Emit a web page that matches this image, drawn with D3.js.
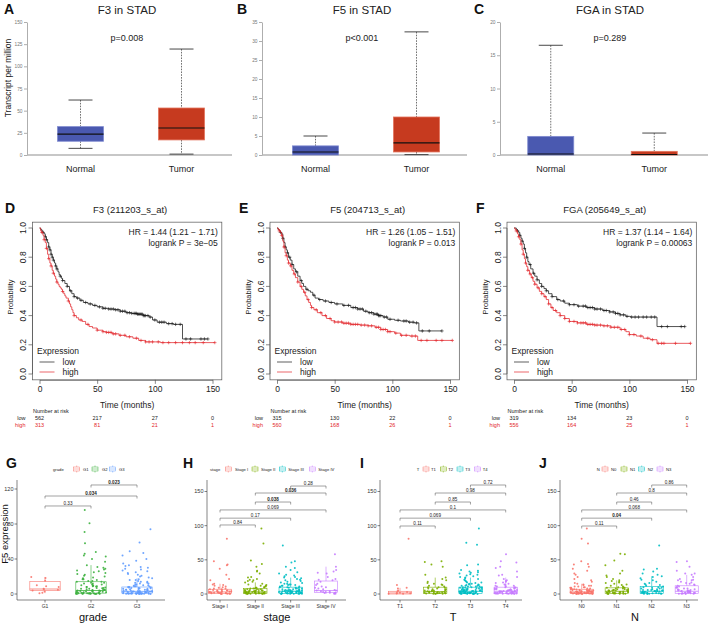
<!DOCTYPE html>
<html><head><meta charset="utf-8">
<script src="https://cdn.jsdelivr.net/npm/d3@7"></script>
<style>body{margin:0;background:#fff} svg{display:block}</style>
</head><body><svg id="c" width="708" height="625"></svg>
<script>
// ---------------- DATA ----------------
// Row 1: expression boxplots, stats = [lowWhisker, q1, median, q3, highWhisker]
const exprGroups = ["Normal", "Tumor"];
const A_normal = [7.5, 15.5, 23.5, 32, 62];
const A_tumor  = [1, 17, 30.5, 53, 119.5];
const B_normal = [0, 0, 0.8, 2.4, 5];
const B_tumor  = [0.1, 0.8, 3.2, 10, 32.4];
const C_normal = [0, 0, 0.15, 2.8, 16.5];
const C_tumor  = [0, 0, 0.08, 0.55, 3.3];
const A_ticks = [0, 25, 50, 75, 100, 125, 150];
const B_ticks = [0, 5, 10, 15, 20, 25, 30, 35];
const C_ticks = [0, 5, 10, 15, 20];

// Row 2: Kaplan-Meier step curves [time, survival]
const D_low = [[0,1],[1,0.99],[2,0.98],[3,0.97],[4,0.96],[5,0.94],[6,0.92],[7,0.9],[8,0.87],[9,0.85],[10,0.82],[11,0.8],[12,0.78],[13,0.76],[14,0.74],[15,0.72],[16,0.7],[17,0.68],[18,0.67],[19,0.655],[20,0.64],[22,0.62],[24,0.6],[26,0.57],[28,0.55],[30,0.53],[32,0.52],[35,0.505],[38,0.49],[42,0.48],[46,0.47],[50,0.46],[55,0.45],[60,0.445],[65,0.44],[70,0.43],[75,0.42],[80,0.415],[85,0.41],[90,0.4],[95,0.39],[98,0.37],[102,0.355],[110,0.345],[116,0.34],[124,0.24]];
const D_high = [[0,1],[1,0.98],[2,0.97],[3,0.95],[4,0.92],[5,0.9],[6,0.86],[7,0.82],[8,0.79],[9,0.76],[10,0.74],[11,0.71],[12,0.69],[13,0.67],[14,0.65],[15,0.63],[16,0.615],[17,0.6],[18,0.59],[19,0.58],[20,0.565],[21,0.55],[22,0.535],[23,0.52],[25,0.5],[26,0.48],[27,0.46],[28,0.44],[29,0.42],[30,0.4],[32,0.385],[34,0.37],[37,0.36],[40,0.34],[43,0.325],[46,0.315],[50,0.3],[55,0.29],[58,0.285],[63,0.275],[69,0.265],[75,0.255],[81,0.245],[86,0.23],[92,0.22],[105,0.215]];
const E_low = [[0,1],[1,0.99],[2,0.98],[3,0.97],[4,0.96],[5,0.93],[6,0.9],[7,0.87],[8,0.85],[9,0.83],[10,0.8],[11.5,0.78],[13,0.75],[14.5,0.72],[16,0.7],[18,0.67],[20,0.64],[21.5,0.62],[23,0.6],[25,0.58],[27,0.57],[29,0.56],[31,0.54],[33,0.52],[36,0.51],[40,0.5],[45,0.49],[50,0.48],[57,0.47],[64,0.455],[70,0.445],[75,0.43],[79,0.42],[84,0.41],[88,0.4],[92,0.39],[96,0.375],[102,0.368],[107,0.363],[114,0.355],[119,0.35],[123,0.295]];
const E_high = [[0,1],[1,0.99],[2,0.98],[3,0.97],[4,0.95],[5,0.91],[6,0.87],[7,0.83],[8,0.81],[9,0.78],[10,0.76],[11.5,0.74],[13,0.71],[14.5,0.685],[16,0.66],[18,0.63],[20,0.6],[21.5,0.58],[23,0.56],[24.5,0.535],[26,0.51],[27.5,0.49],[29,0.47],[30,0.455],[32,0.44],[35,0.42],[39,0.4],[43,0.38],[47,0.365],[50,0.356],[57,0.348],[64,0.34],[72,0.335],[79,0.33],[85,0.32],[90,0.305],[96,0.29],[102,0.28],[107,0.265],[115,0.26],[122,0.23]];
const F_low = [[0,1],[2,0.99],[3,0.98],[4,0.97],[5,0.95],[6,0.93],[7,0.91],[8,0.89],[9,0.86],[10,0.83],[11,0.8],[12,0.77],[13,0.75],[14.5,0.72],[16.5,0.69],[18,0.67],[20,0.645],[22,0.62],[24,0.6],[26,0.585],[28,0.57],[30,0.55],[33,0.53],[37,0.51],[40,0.5],[44,0.485],[48,0.475],[55,0.465],[63,0.455],[70,0.445],[77,0.435],[83,0.425],[88,0.415],[92,0.405],[97,0.395],[101,0.39],[124,0.325]];
const F_high = [[0,1],[1,0.99],[2,0.98],[3,0.96],[4,0.94],[5,0.92],[6,0.89],[7,0.85],[8,0.82],[9,0.79],[10,0.76],[11,0.735],[12,0.71],[13.5,0.685],[15,0.66],[16.5,0.635],[18,0.615],[20,0.59],[22,0.566],[24,0.55],[26,0.53],[28,0.51],[30,0.48],[32,0.455],[34,0.435],[37,0.42],[40,0.4],[44,0.38],[48,0.36],[55,0.35],[63,0.34],[70,0.335],[77,0.33],[84,0.32],[92,0.305],[97,0.29],[100,0.27],[106,0.26],[112,0.245],[118,0.235],[124,0.21]];
const D_lowEnd = 146, D_highEnd = 152, E_lowEnd = 143, E_highEnd = 152, F_lowEnd = 148, F_highEnd = 153;
const D_lowCens = [3,5,6,8,9,10,11,12,14,15,18,20,24,27,30,33,36,40,44,48,52,55,57,60,62,64,66,68,70,72,74,76,78,80,82,83,84,85,86,87,88,89,90,91,92,94,96,100,104,106,108,112,115,118,122,127,131,140,143,146];
const D_highCens = [2,4,6,8,10,12,15,20,25,30,36,42,50,55,58,60,62,64,66,70,74,78,84,88,92,95,98,103,107,112,118,124,130,135,142,152];
const E_lowCens = [3,5,7,9,11,13,17,21,26,32,37,42,47,52,58,62,66,68,70,72,74,77,80,82,84,86,87,88,89,90,93,95,98,105,110,112,115,118,121,126,132,143];
const E_highCens = [2,4,6,8,10,12,15,18,21,24,27,30,34,38,42,46,50,53,56,58,60,62,64,66,68,70,73,76,79,82,86,88,90,92,94,96,98,103,108,112,117,120,125,130,138,143,152];
const F_lowCens = [3,5,7,9,11,14,17,20,24,28,33,38,43,48,52,56,60,62,64,66,68,70,72,75,78,80,83,86,88,90,92,95,98,102,105,108,112,115,119,122,128,133,145,148];
const F_highCens = [2,4,6,8,10,12,14,16,18,21,24,27,30,33,36,40,44,48,52,55,58,60,62,64,66,68,70,72,75,78,81,84,87,90,93,96,100,104,110,116,120,125,128,130,140,153];
const riskTimes = [0, 50, 100, 150];
const D_riskLow = [562, 217, 27, 0], D_riskHigh = [313, 81, 21, 1];
const E_riskLow = [315, 130, 22, 0], E_riskHigh = [560, 168, 26, 1];
const F_riskLow = [319, 134, 23, 0], F_riskHigh = [556, 164, 25, 1];

// Row 3: F5 expression by clinical group. stats = [low, q1, median, q3, high]
const G_groups = ["G1","G2","G3"];
const G_stats = [[1,4.2,5.7,14.5,19.5],[0,1,4,14,33],[0,1,3,8,18]];
const G_pts = [
 [19.5,18.3,15.2,10,9,8,6,5.5,5,4,3,1.5,1],
 [96,81,71,58,48,46,44,43,40,37,33,31,30,29,28,27,26,25,24,23,22,21,20,19,18,17,17,16,15,15,14,14,13,13,12,12,11,11,10,10,9.5,9,9,8.5,8,8,7.5,7,7,6.5,6,6,5.5,5,5,5,4.5,4,4,4,3.5,3.5,3,3,3,2.5,2.5,2,2,2,2,1.5,1.5,1.5,1,1,1,1,0.8,0.8,0.6,0.6,0.5,0.5,0.4,0.4,0.3,0.3,0.2,0.2,0.1,0.1],
 [74,59,49,47,44,40,38,35,33,32,31,30,29,28,27,26,25,24,23,22,21,20,19,18,17,16,16,15,14,14,13,13,12,12,11,11,10,10,9.5,9,9,8.5,8,8,7.5,7.5,7,7,6.5,6.5,6,6,5.5,5.5,5,5,5,4.5,4.5,4,4,4,3.5,3.5,3.5,3,3,3,3,2.5,2.5,2.5,2,2,2,2,2,1.5,1.5,1.5,1.5,1,1,1,1,1,0.8,0.8,0.8,0.6,0.6,0.6,0.5,0.5,0.4,0.4,0.3,0.3,0.2,0.2,0.1,0.1,0.1]
];
const G_pairs = [[0,1,100.6,"0.33",false],[0,2,112,"0.034",true],[1,2,124.6,"0.023",true]];

const H_groups = ["Stage I","Stage II","Stage III","Stage IV"];
const H_stats = [[0,0.5,3,7,15],[0,1,3,8,17],[0,1,4,10,24],[0,2,5,19,40]];
const H_pts = [
 [81,48,43,42,37,28,22,20,15,14,13,12,11,10,9,8,8,7,7,6,6,5,5,5,4,4,4,3.5,3,3,3,2.5,2,2,2,1.5,1.5,1,1,1,0.8,0.5,0.5,0.3,0.2,0.1],
 [96,74,49,44,40,34,33,30,25,24,22,21,20,19,18,17,15,14,13,12,12,11,10,10,9,9,8,8,8,7,7,7,6,6,6,5,5,5,5,4.5,4,4,4,4,3.5,3.5,3,3,3,3,2.5,2.5,2,2,2,2,1.5,1.5,1.5,1,1,1,1,0.8,0.6,0.5,0.5,0.4,0.3,0.2,0.1],
 [71,48,46,40,38,35,32,30,28,27,26,25,24,23,22,21,20,19,18,17,16,15,15,14,14,13,13,12,12,11,11,10,10,9,9,9,8,8,8,7,7,7,6,6,6,6,5,5,5,5,4.5,4.5,4,4,4,4,3.5,3.5,3,3,3,3,2.5,2.5,2,2,2,2,1.5,1.5,1.5,1,1,1,1,0.8,0.6,0.5,0.5,0.4,0.3,0.2,0.1],
 [58,40,35,33,31,30,25,22,21,20,18,15,13,11,10,9,8,7,6,5,5,4,4,3,3,2,2,1.5,1,0.5,0.3]
];
const H_pairs = [[0,1,101,"0.84",false],[0,2,111,"0.17",false],[0,3,123,"0.069",false],[1,2,134.6,"0.038",true],[1,3,147.8,"0.036",true],[2,3,158,"0.28",false]];

const I_groups = ["T1","T2","T3","T4"];
const I_stats = [[0,0,1.5,4,9],[0,1,3.5,10,24],[0,1,4,10,24],[0,1,4,10,24]];
const I_pts = [
 [81,13,9,8,5,4,3,2,1.5,1,0.8,0.5,0.3],
 [48,47,43,40,28,24,22,20,18,16,15,14,13,12,11,10,10,9,8,8,7,7,6,6,5,5,5,4,4,4,3.5,3,3,3,2.5,2,2,2,1.5,1.5,1,1,1,0.8,0.5,0.5,0.3,0.2],
 [96,75,72,43,42,35,34,33,32,31,30,29,28,27,26,25,24,23,22,21,20,19,18,17,17,16,15,15,14,14,13,13,12,12,12,11,11,11,10,10,10,9,9,9,8.5,8,8,8,7.5,7,7,7,6.5,6,6,6,6,5.5,5,5,5,5,4.5,4.5,4,4,4,4,3.5,3.5,3.5,3,3,3,3,2.5,2.5,2.5,2,2,2,2,2,1.5,1.5,1.5,1.5,1,1,1,1,1,0.8,0.8,0.6,0.6,0.5,0.5,0.4,0.3,0.2,0.1],
 [58,48,46,40,38,33,28,27,25,22,20,19,18,17,16,15,14,13,12,12,11,11,10,10,9,9,8,8,8,7,7,7,6,6,6,5,5,5,5,4.5,4,4,4,4,3.5,3.5,3,3,3,3,2.5,2.5,2,2,2,2,1.5,1.5,1.5,1,1,1,1,0.8,0.6,0.5,0.5,0.4,0.3,0.2,0.1]
];
const I_pairs = [[0,1,99.5,"0.11",false],[0,2,111,"0.069",false],[0,3,123,"0.1",false],[1,2,134.6,"0.85",false],[1,3,147.8,"0.98",false],[2,3,159.5,"0.72",false]];

const J_groups = ["N0","N1","N2","N3"];
const J_stats = [[0,1,3,7,15],[0,1,4,9,20],[0,1,4,11,26],[0,1,4,12,28]];
const J_pts = [
 [96,81,74,48,44,43,40,37,34,30,28,25,22,20,18,16,15,14,13,12,12,11,11,10,10,9,9,8.5,8,8,7.5,7,7,6.5,6,6,6,5.5,5,5,5,4.5,4.5,4,4,4,4,3.5,3.5,3.5,3,3,3,3,2.5,2.5,2.5,2,2,2,2,2,1.5,1.5,1.5,1.5,1,1,1,1,1,0.8,0.8,0.6,0.6,0.5,0.5,0.4,0.3,0.2,0.1,0.1],
 [59,58,49,42,34,30,27,25,22,20,19,18,17,16,15,14,13,12,11,10,10,9,9,8,8,7,7,7,6,6,6,5,5,5,5,4.5,4,4,4,3.5,3.5,3,3,3,2.5,2.5,2,2,2,1.5,1.5,1,1,1,0.8,0.6,0.5,0.4,0.3,0.2,0.1],
 [71,37,36,33,30,28,26,25,23,21,20,18,16,15,14,13,12,11,10,10,9,9,8,8,7,7,6,6,6,5,5,5,4.5,4,4,4,3.5,3,3,3,2.5,2,2,2,1.5,1.5,1,1,1,0.8,0.5,0.3,0.2,0.1],
 [48,47,40,34,30,30,28,25,22,21,20,20,18,17,16,15,14,13,12,11,10,10,9,8,8,7,7,6,6,5,5,5,4.5,4,4,4,3.5,3,3,3,2.5,2,2,2,1.5,1.5,1,1,1,0.8,0.5,0.3,0.2,0.1]
];
const J_pairs = [[0,1,99.5,"0.11",false],[0,2,111,"0.04",true],[0,3,123,"0.068",false],[1,2,134.6,"0.46",false],[1,3,147.8,"0.8",false],[2,3,159.5,"0.86",false]];

// ---------------- DRAWING ----------------
const FONT = '"Liberation Sans", Arial, Helvetica, sans-serif';
const svg = d3.select("#c").attr("font-family", FONT);

function label(x, y, s, size, opt = {}) {
  const t = svg.append("text").attr("x", x).attr("y", y).attr("font-size", size).text(s);
  if (opt.anchor) t.attr("text-anchor", opt.anchor);
  if (opt.weight) t.attr("font-weight", opt.weight);
  t.attr("fill", opt.fill || "#111");
  if (opt.rot) t.attr("transform", `rotate(-90,${x},${y})`);
  return t;
}

// ---- Row 1
const C_BLUE = "#4a59b0", C_BLUE_L = "#7f8ad0", C_RED = "#c63a1f", C_RED_L = "#e3735c";
function exprPanel(o) {
  const y = d3.scaleLinear().domain([0, o.max]).range([155, 22]);
  const x = d3.scalePoint().domain(exprGroups).range(o.xr).padding(0.5);
  const g = svg.append("g");
  const ax = g.append("g").attr("transform", `translate(${o.axisX},0)`)
    .call(d3.axisLeft(y).tickValues(o.ticks).tickSize(3).tickSizeOuter(0).tickPadding(1.5));
  ax.select(".domain").attr("stroke", "#999").attr("stroke-width", 0.8);
  ax.selectAll(".tick line").attr("stroke", "#999").attr("stroke-width", 0.8);
  ax.selectAll(".tick text").attr("font-size", 4.8).attr("fill", "#777").attr("font-family", FONT);
  g.append("line").attr("x1", o.axisX).attr("x2", o.baseEnd).attr("y1", y(0)).attr("y2", y(0))
    .attr("stroke", "#b4b4b4").attr("stroke-width", 1.6);
  exprGroups.forEach((k, i) => {
    const s = o.stats[i], cx = x(k), bw = 46, cw = 24;
    const fill = i === 0 ? C_BLUE : C_RED, edge = i === 0 ? C_BLUE_L : C_RED_L;
    const dash = (y1, y2) => g.append("line").attr("x1", cx).attr("x2", cx).attr("y1", y1).attr("y2", y2)
      .attr("stroke", "#333").attr("stroke-width", 0.7).attr("stroke-dasharray", "1.6,1.2");
    const cap = (yy) => g.append("line").attr("x1", cx - cw / 2).attr("x2", cx + cw / 2).attr("y1", yy).attr("y2", yy)
      .attr("stroke", "#333").attr("stroke-width", 0.9);
    dash(y(s[4]), y(s[3])); cap(y(s[4]));
    if (s[1] > s[0]) { dash(y(s[1]), y(s[0])); cap(y(s[0])); }
    g.append("rect").attr("x", cx - bw / 2).attr("y", y(s[3])).attr("width", bw)
      .attr("height", Math.max(1, y(s[1]) - y(s[3]))).attr("fill", fill).attr("stroke", edge).attr("stroke-width", 0.8);
    g.append("line").attr("x1", cx - bw / 2).attr("x2", cx + bw / 2).attr("y1", y(s[2])).attr("y2", y(s[2]))
      .attr("stroke", "#111").attr("stroke-width", 1.1);
    label(cx, 172, k, 9, { anchor: "middle", fill: "#222" });
  });
  label(o.letterX, 13.5, o.letter, 14, { weight: "bold" });
  label(o.titleX, 13.5, o.title, 11.5, { anchor: "middle", fill: "#222" });
  label(o.titleX, 41, o.p, 9, { anchor: "middle", fill: "#222" });
}
exprPanel({ letter: "A", letterX: 4, title: "F3 in STAD", titleX: 127, p: "p=0.008", max: 150, ticks: A_ticks,
  axisX: 27, xr: [30, 232], baseEnd: 232, stats: [A_normal, A_tumor] });
exprPanel({ letter: "B", letterX: 237, title: "F5 in STAD", titleX: 362, p: "p<0.001", max: 35, ticks: B_ticks,
  axisX: 262, xr: [265, 467], baseEnd: 467, stats: [B_normal, B_tumor] });
exprPanel({ letter: "C", letterX: 474, title: "FGA in STAD", titleX: 610, p: "p=0.289", max: 20, ticks: C_ticks,
  axisX: 500, xr: [499, 706], baseEnd: 708, stats: [C_normal, C_tumor] });
label(10.5, 78, "Transcript per million", 8.5, { anchor: "middle", rot: true, fill: "#222" });

// ---- Row 2: Kaplan-Meier
const KM_RED = "#e3262b", KM_BLACK = "#1a1a1a";
function survAt(steps, t) { let s = 1; for (const [tt, ss] of steps) { if (tt <= t) s = ss; else break; } return s; }
function km(o) {
  const x = d3.scaleLinear().domain([0, 150]).range([o.x0, o.x0 + 173]);
  const y = d3.scaleLinear().domain([0, 1]).range([374, 228]);
  const fl = x(-6.08), fr = x(158.08), ft = y(1.04), fb = y(-0.04);
  const g = svg.append("g");
  g.append("rect").attr("x", fl).attr("y", ft).attr("width", fr - fl).attr("height", fb - ft)
    .attr("fill", "none").attr("stroke", "#555").attr("stroke-width", 0.7);
  const xa = g.append("g").attr("transform", `translate(0,${fb})`)
    .call(d3.axisBottom(x).tickValues(riskTimes).tickSize(4).tickSizeOuter(0).tickPadding(2.6));
  xa.select(".domain").attr("stroke", "#555").attr("stroke-width", 0.7);
  xa.selectAll(".tick line").attr("stroke", "#555").attr("stroke-width", 0.7);
  xa.selectAll(".tick text").attr("font-size", 8.5).attr("fill", "#222").attr("font-family", FONT);
  [0, 0.2, 0.4, 0.6, 0.8, 1].forEach(v => {
    g.append("line").attr("x1", fl - 4).attr("x2", fl).attr("y1", y(v)).attr("y2", y(v)).attr("stroke", "#555").attr("stroke-width", 0.7);
    label(fl - 6, y(v), d3.format(".1f")(v), 8.5, { anchor: "middle", rot: true, fill: "#222" });
  });
  g.append("line").attr("x1", fl).attr("x2", fl).attr("y1", y(0)).attr("y2", y(1)).attr("stroke", "#555").attr("stroke-width", 0.7);
  label(fl - 19, 297, "Probability", 7.5, { anchor: "middle", rot: true, fill: "#222" });
  const line = d3.line().x(d => x(d[0])).y(d => y(d[1])).curve(d3.curveStepAfter);
  const draw = (steps, end, cens, col) => {
    const pts = steps.concat([[end, steps[steps.length - 1][1]]]);
    g.append("path").attr("d", line(pts)).attr("fill", "none").attr("stroke", col).attr("stroke-width", 0.75);
    cens.forEach(t => {
      const cx = x(t), cy = y(survAt(steps, t));
      g.append("path").attr("d", `M${cx - 1.7},${cy}H${cx + 1.7}M${cx},${cy - 1.7}V${cy + 1.7}`)
        .attr("stroke", col).attr("stroke-width", 0.6);
    });
  };
  draw(o.low, o.lowEnd, o.lowCens, KM_BLACK);
  draw(o.high, o.highEnd, o.highCens, KM_RED);
  label(o.letterX, 213, o.letter, 14, { weight: "bold" });
  label((fl + fr) / 2 + 3, 213, o.title, 9.5, { anchor: "middle", fill: "#222" });
  label(fr - 4, 234.5, o.hr, 8.5, { anchor: "end", fill: "#222" });
  label(fr - 4, 245.5, o.lr, 8.5, { anchor: "end", fill: "#222" });
  label(x(0) - 2.5, 354, "Expression", 8.5, { fill: "#222" });
  g.append("line").attr("x1", x(0)).attr("x2", x(0) + 15).attr("y1", 362).attr("y2", 362).attr("stroke", KM_BLACK).attr("stroke-width", 0.7);
  g.append("line").attr("x1", x(0)).attr("x2", x(0) + 15).attr("y1", 372).attr("y2", 372).attr("stroke", KM_RED).attr("stroke-width", 0.7);
  label(x(0) + 23, 365, "low", 8.5, { fill: "#222" });
  label(x(0) + 23, 375, "high", 8.5, { fill: "#222" });
  label((fl + fr) / 2, 408, "Time (months)", 8.5, { anchor: "middle", fill: "#222" });
  label(x(0) - 6.5, 413, "Number at risk", 5.5, { fill: "#222" });
  label(x(0) - 14, 419.5, "low", 5.5, { anchor: "end", fill: "#222" });
  label(x(0) - 14, 426.5, "high", 5.5, { anchor: "end", fill: KM_RED });
  riskTimes.forEach((t, i) => {
    label(x(t), 419.5, o.riskLow[i], 5.5, { anchor: "middle", fill: "#222" });
    label(x(t), 426.5, o.riskHigh[i], 5.5, { anchor: "middle", fill: KM_RED });
  });
}
km({ x0: 39.5, letter: "D", letterX: 5, title: "F3 (211203_s_at)", hr: "HR = 1.44 (1.21 \u2212 1.71)", lr: "logrank P = 3e\u221205",
  low: D_low, high: D_high, lowEnd: D_lowEnd, highEnd: D_highEnd, lowCens: D_lowCens, highCens: D_highCens, riskLow: D_riskLow, riskHigh: D_riskHigh });
km({ x0: 277, letter: "E", letterX: 239, title: "F5 (204713_s_at)", hr: "HR = 1.26 (1.05 \u2212 1.51)", lr: "logrank P = 0.013",
  low: E_low, high: E_high, lowEnd: E_lowEnd, highEnd: E_highEnd, lowCens: E_lowCens, highCens: E_highCens, riskLow: E_riskLow, riskHigh: E_riskHigh });
km({ x0: 514, letter: "F", letterX: 476, title: "FGA (205649_s_at)", hr: "HR = 1.37 (1.14 \u2212 1.64)", lr: "logrank P = 0.00063",
  low: F_low, high: F_high, lowEnd: F_lowEnd, highEnd: F_highEnd, lowCens: F_lowCens, highCens: F_highCens, riskLow: F_riskLow, riskHigh: F_riskHigh });

// ---- Row 3: jitter boxplots
const HUE3 = ["#F8766D", "#3DB13F", "#619CFF"];
const HUE4 = ["#F8766D", "#7CAE00", "#00BFC4", "#C77CFF"];
// deterministic hash for horizontal jitter placement (layout only, not data)
function jitterOffset(i, j) { const v = Math.sin(j * 12.9898 + i * 78.233 + 0.5) * 43758.5453; return v - Math.floor(v) - 0.5; }
function jit(o) {
  const y = d3.scaleLinear().domain([0, o.max]).range([594, o.topPx]);
  const x = d3.scalePoint().domain(o.groups).range([o.c0, o.c1]);
  const sp = x.step();
  const g = svg.append("g");
  const AX = "#333";
  g.append("line").attr("x1", o.axisX).attr("x2", o.axisX).attr("y1", 480).attr("y2", 600).attr("stroke", AX).attr("stroke-width", 0.6);
  g.append("line").attr("x1", o.axisX).attr("x2", o.xEnd).attr("y1", 600).attr("y2", 600).attr("stroke", AX).attr("stroke-width", 0.6);
  o.ticks.forEach(v => {
    g.append("line").attr("x1", o.axisX - 2.5).attr("x2", o.axisX).attr("y1", y(v)).attr("y2", y(v)).attr("stroke", AX).attr("stroke-width", 0.6);
    label(o.axisX - 3.5, y(v) + 1.9, v, 5.5, { anchor: "end", fill: "#333" });
  });
  o.groups.forEach((k, i) => {
    const cx = x(k), s = o.stats[i], c = o.colors[i], bw = sp * 0.66;
    g.append("line").attr("x1", cx).attr("x2", cx).attr("y1", 600).attr("y2", 602.5).attr("stroke", AX).attr("stroke-width", 0.6);
    label(cx, 607.5, k, 5, { anchor: "middle", fill: "#333" });
    g.append("line").attr("x1", cx).attr("x2", cx).attr("y1", y(s[0])).attr("y2", y(s[1])).attr("stroke", c).attr("stroke-width", 0.6);
    g.append("line").attr("x1", cx).attr("x2", cx).attr("y1", y(s[3])).attr("y2", y(s[4])).attr("stroke", c).attr("stroke-width", 0.6);
    g.append("rect").attr("x", cx - bw / 2).attr("y", y(s[3])).attr("width", bw).attr("height", y(s[1]) - y(s[3]))
      .attr("fill", "#fff").attr("fill-opacity", 0.4).attr("stroke", c).attr("stroke-width", 0.6);
    g.append("line").attr("x1", cx - bw / 2).attr("x2", cx + bw / 2).attr("y1", y(s[2])).attr("y2", y(s[2])).attr("stroke", c).attr("stroke-width", 0.8);
    o.pts[i].forEach((v, j) => {
      const off = jitterOffset(i + o.seed, j) * sp * 0.66;
      g.append("circle").attr("cx", cx + off).attr("cy", y(v)).attr("r", 1.0).attr("fill", c).attr("fill-opacity", 0.9);
    });
  });
  o.pairs.forEach(([a, b, v, t, bold]) => {
    const x1 = x(o.groups[a]), x2 = x(o.groups[b]), yy = y(v);
    g.append("path").attr("d", `M${x1},${yy + 2.5}V${yy}H${x2}V${yy + 2.5}`).attr("fill", "none").attr("stroke", "#555").attr("stroke-width", 0.55);
    label((x1 + x2) / 2, yy - 1.4, t, 4.6, { anchor: "middle", fill: "#222", weight: bold ? "bold" : null });
  });
  // legend
  label(o.legX, 470.5, o.legTitle, 4.2, { fill: "#222" });
  o.groups.forEach((k, i) => {
    const sx = o.legSym[i], c = o.colors[i];
    g.append("line").attr("x1", sx).attr("x2", sx).attr("y1", 465.5).attr("y2", 472.5).attr("stroke", c).attr("stroke-width", 0.5);
    g.append("rect").attr("x", sx - 3).attr("y", 467).attr("width", 6).attr("height", 4).attr("fill", "#fff").attr("stroke", c).attr("stroke-width", 0.5);
    g.append("line").attr("x1", sx - 3).attr("x2", sx + 3).attr("y1", 469).attr("y2", 469).attr("stroke", c).attr("stroke-width", 0.5);
    label(o.legTxt[i], 470.5, k, 4.2, { fill: "#222" });
  });
  label(o.letterX, 468, o.letter, 14, { weight: "bold" });
  label(o.titleX, 621, o.xTitle, 11, { anchor: "middle", fill: "#111" });
}
jit({ letter: "G", letterX: 6, groups: G_groups, colors: HUE3, stats: G_stats, pts: G_pts, pairs: G_pairs, seed: 1,
  max: 120, topPx: 489, ticks: [0, 40, 80, 120], axisX: 17, xEnd: 165, c0: 45, c1: 137, xTitle: "grade", titleX: 93,
  legTitle: "grade", legX: 53, legSym: [76.7, 95, 112.7], legTxt: [83, 102, 119] });
label(7.5, 534, "F5 expression", 9.5, { anchor: "middle", rot: true });
jit({ letter: "H", letterX: 183, groups: H_groups, colors: HUE4, stats: H_stats, pts: H_pts, pairs: H_pairs, seed: 5,
  max: 150, topPx: 491.5, ticks: [0, 50, 100, 150], axisX: 207, xEnd: 346, c0: 220, c1: 326, xTitle: "stage", titleX: 277,
  legTitle: "stage", legX: 210, legSym: [228.3, 255, 282.3, 312.3], legTxt: [235, 261, 288.3, 318.3] });
jit({ letter: "I", letterX: 360, groups: I_groups, colors: HUE4, stats: I_stats, pts: I_pts, pairs: I_pairs, seed: 11,
  max: 150, topPx: 491.5, ticks: [0, 50, 100, 150], axisX: 380, xEnd: 522, c0: 400, c1: 505.7, xTitle: "T", titleX: 453,
  legTitle: "T", legX: 416.7, legSym: [426, 443.3, 460, 477.7], legTxt: [431, 448.3, 465.3, 482.7] });
jit({ letter: "J", letterX: 539, groups: J_groups, colors: HUE4, stats: J_stats, pts: J_pts, pairs: J_pairs, seed: 17,
  max: 150, topPx: 491.5, ticks: [0, 50, 100, 150], axisX: 560, xEnd: 698, c0: 581.7, c1: 686.7, xTitle: "N", titleX: 635,
  legTitle: "N", legX: 596.7, legSym: [605, 624, 641.7, 660], legTxt: [611, 630, 647.7, 666] });
</script></body></html>
